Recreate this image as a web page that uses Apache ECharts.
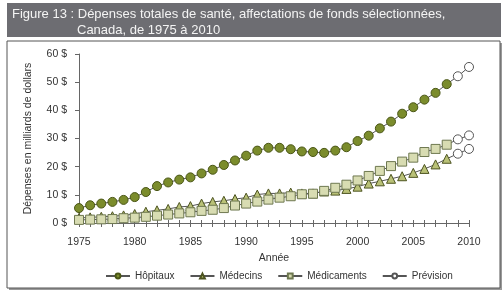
<!DOCTYPE html>
<html>
<head>
<meta charset="utf-8">
<script src="https://cdn.jsdelivr.net/npm/echarts@6/dist/echarts.min.js"></script>
<style>
  html, body { margin: 0; padding: 0; background: #fff; }
  #chart { width: 504px; height: 296px; }
</style>
</head>
<body>
<div id="chart"></div>
<script>
// years 1975..2010, last two points are the forecast
const years = [];
for (let y = 1975; y <= 2010; y++) years.push(String(y));

const hopitaux = [5.3, 6.3, 6.9, 7.5, 8.2, 9.2, 11.0, 13.1, 14.4, 15.4, 16.2, 17.6, 18.9, 20.6, 22.2, 23.9, 25.7, 26.7, 26.7, 26.2, 25.4, 25.2, 24.9, 25.7, 26.9, 29.1, 31.0, 33.6, 36.0, 38.8, 41.1, 43.8, 46.2, 49.3, 52.1, 55.4];
const medecins = [1.8, 2.0, 2.2, 2.4, 2.7, 3.2, 4.0, 4.5, 5.0, 5.7, 6.0, 6.9, 7.5, 7.9, 8.5, 9.0, 10.1, 10.5, 10.5, 10.8, 10.5, 10.5, 11.2, 11.5, 12.1, 12.9, 14.0, 14.8, 15.7, 16.6, 17.8, 19.2, 20.8, 22.8, 24.6, 26.3];
const medicaments = [1.1, 1.2, 1.3, 1.4, 1.7, 1.9, 2.2, 2.6, 3.0, 3.4, 3.8, 4.3, 4.7, 5.3, 6.2, 6.9, 7.6, 8.3, 9.0, 9.5, 10.2, 10.4, 11.4, 12.5, 13.6, 15.1, 16.7, 18.5, 20.2, 21.8, 23.2, 25.2, 26.3, 27.8, 29.7, 31.1];
const forecastFrom = 34; // index of 2009

const font = "'Liberation Sans', Arial, sans-serif";
const fs = 10.5;
const lineCol = '#555';

function actual(arr) {
  return arr.map((v, i) => i < forecastFrom ? v : null);
}
function forecast(arr) {
  return arr.map((v, i) => {
    if (i === forecastFrom - 1) return { value: v, symbol: 'none' };
    return i >= forecastFrom ? v : null;
  });
}

const base = {
  type: 'line',
  showAllSymbol: true,
  lineStyle: { color: lineCol, width: 1 },
  symbolSize: 9,
  z: 3
};

const chart = echarts.init(document.getElementById('chart'));
chart.setOption({
  animation: false,
  textStyle: { fontFamily: font },
  graphic: [
    { type: 'rect', shape: { x: 7, y: 3, width: 494, height: 34 }, style: { fill: '#6d6d72' } },
    { type: 'rect', shape: { x: 9, y: 43, width: 493, height: 247 }, style: { fill: '#9a9a9a' } },
    { type: 'rect', shape: { x: 7, y: 41, width: 493, height: 247 }, style: { fill: '#fff', stroke: '#555', lineWidth: 1 } },
    { type: 'text', left: 12, top: 8, style: { text: 'Figure 13 : Dépenses totales de santé, affectations de fonds sélectionnées,', fill: '#f4f4f4', font: '13px "Liberation Sans", Arial, sans-serif' } },
    { type: 'text', left: 77, top: 24, style: { text: 'Canada, de 1975 à 2010', fill: '#f4f4f4', font: '13px "Liberation Sans", Arial, sans-serif' } }
  ],
  grid: { left: 79, right: 35, top: 54, bottom: 73 },
  legend: {
    bottom: 10,
    left: 100,
    itemWidth: 24,
    itemHeight: 6,
    itemGap: 15,
    textStyle: { fontFamily: font, fontSize: 10, color: '#333' },
    data: ['Hôpitaux', 'Médecins', 'Médicaments', 'Prévision']
  },
  xAxis: [{
    type: 'category',
    data: years,
    boundaryGap: false,
    name: 'Année',
    nameLocation: 'middle',
    nameGap: 28,
    nameTextStyle: { fontFamily: font, fontSize: fs, color: '#333' },
    axisLine: { lineStyle: { color: '#666' } },
    axisTick: { interval: 0, length: 4, lineStyle: { color: '#666' } },
    axisLabel: { interval: 4, fontFamily: font, fontSize: fs, color: '#333', margin: 14 }
  }, {
    type: 'category',
    data: years,
    boundaryGap: false,
    position: 'bottom',
    axisLine: { show: false },
    axisTick: { inside: true, interval: 0, length: 3, lineStyle: { color: '#666' } },
    axisLabel: { show: false }
  }],
  yAxis: {
    type: 'value',
    min: 0,
    max: 60,
    interval: 10,
    name: 'Dépenses en milliards de dollars',
    nameLocation: 'middle',
    nameGap: 45,
    nameTextStyle: { fontFamily: font, fontSize: fs, color: '#333' },
    splitLine: { show: false },
    axisLine: { show: true, lineStyle: { color: '#666' } },
    axisTick: { show: true, length: 4, lineStyle: { color: '#666' } },
    axisLabel: { formatter: '{value} $', fontFamily: font, fontSize: fs, color: '#333', margin: 12 }
  },
  series: [
    Object.assign({}, base, {
      name: 'Hôpitaux', data: actual(hopitaux), symbol: 'circle',
      itemStyle: { color: '#7b8c2c', borderColor: '#4a5616', borderWidth: 1 }
    }),
    Object.assign({}, base, {
      name: 'Médecins', data: actual(medecins), symbol: 'triangle',
      itemStyle: { color: '#b9c177', borderColor: '#4d5420', borderWidth: 1 }
    }),
    Object.assign({}, base, {
      name: 'Médicaments', data: actual(medicaments), symbol: 'rect',
      itemStyle: { color: '#d8dcb2', borderColor: '#6e7850', borderWidth: 1 }
    }),
    Object.assign({}, base, {
      name: 'Prévision', data: forecast(hopitaux), symbol: 'circle',
      itemStyle: { color: '#fff', borderColor: '#555', borderWidth: 1 }
    }),
    Object.assign({}, base, {
      name: 'Prévision', data: forecast(medecins), symbol: 'circle',
      itemStyle: { color: '#fff', borderColor: '#555', borderWidth: 1 }
    }),
    Object.assign({}, base, {
      name: 'Prévision', data: forecast(medicaments), symbol: 'circle',
      itemStyle: { color: '#fff', borderColor: '#555', borderWidth: 1 }
    })
  ]
});
</script>
</body>
</html>
